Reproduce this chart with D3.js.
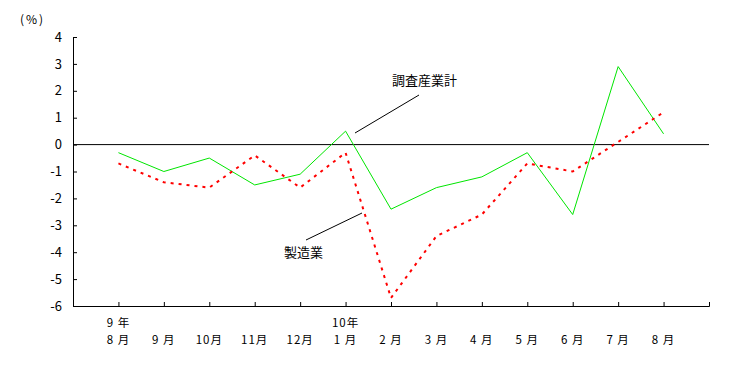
<!DOCTYPE html>
<html><head><meta charset="utf-8">
<script src="https://cdn.jsdelivr.net/npm/d3@7"></script>
<style>body{margin:0;background:#fff}svg{display:block}text{font-family:"Noto Sans CJK JP","DejaVu Sans",sans-serif;}</style>
</head><body>
<script>
const categories = ["8月","9月","10月","11月","12月","1月","2月","3月","4月","5月","6月","7月","8月b"];
const monthLabels = ["8 月","9 月","10月","11月","12月","1 月","2 月","3 月","4 月","5 月","6 月","7 月","8 月"];
const yearLabels = ["9 年","","","","","10年","","","","","","",""];
const allIndustries = [-0.3,-1.0,-0.5,-1.5,-1.1,0.5,-2.4,-1.6,-1.2,-0.3,-2.6,2.9,0.4];
const manufacturing = [-0.7,-1.4,-1.6,-0.4,-1.6,-0.3,-5.7,-3.4,-2.6,-0.7,-1.0,0.1,1.2];
const yTicks = [4,3,2,1,0,-1,-2,-3,-4,-5,-6];

const W=746,H=371;
const svg=d3.select("body").append("svg").attr("width",W).attr("height",H);
const x=d3.scalePoint().domain(categories).range([73,709]).padding(1);
const y=d3.scaleLinear().domain([-6,4]).range([306,37]);

// y axis
const ya=svg.append("g").attr("transform","translate(73,0)")
  .call(d3.axisLeft(y).tickValues(yTicks).tickSizeInner(-4).tickSizeOuter(0).tickPadding(11).tickFormat(d=>d<0?"-"+Math.abs(d):d));
ya.select(".domain").attr("stroke","#000");
ya.selectAll(".tick line").attr("stroke","#000");
ya.selectAll("text").attr("font-size",13).attr("fill","#000");

// x axis
const xa=svg.append("g").attr("transform","translate(0,306)")
  .call(d3.axisBottom(x).tickSizeInner(-4).tickSizeOuter(-4).tickFormat(""));
xa.select(".domain").attr("stroke","#000");
xa.selectAll(".tick line").attr("stroke","#000");

// labels
const lab=svg.append("g");
categories.forEach((c,i)=>{
  lab.append("text").attr("x",x(c)).attr("y",344).attr("text-anchor","middle").attr("font-size",11.5).attr("letter-spacing",1).text(monthLabels[i]);
  if(yearLabels[i]) lab.append("text").attr("x",x(c)).attr("y",327).attr("text-anchor","middle").attr("font-size",11.5).attr("letter-spacing",1).text(yearLabels[i]);
});
svg.append("text").attr("x",20).attr("y",24).attr("font-size",12).attr("letter-spacing",2).text("(%)");

// zero line
svg.append("line").attr("x1",73).attr("x2",709).attr("y1",y(0)).attr("y2",y(0)).attr("stroke","#000").attr("stroke-width",1);

const line=d3.line().x((d,i)=>x(categories[i])).y(d=>y(d));
svg.append("path").datum(allIndustries).attr("d",line).attr("fill","none").attr("stroke","#00e600").attr("stroke-width",1);
svg.append("path").datum(manufacturing).attr("d",line).attr("fill","none").attr("stroke","#ff0000").attr("stroke-width",2).attr("stroke-dasharray","3,5");

// annotations
svg.append("line").attr("x1",355).attr("y1",133).attr("x2",419).attr("y2",95).attr("stroke","#000");
svg.append("text").attr("x",392).attr("y",85).attr("font-size",13).text("調査産業計");
svg.append("line").attr("x1",306).attr("y1",240).attr("x2",362).attr("y2",213).attr("stroke","#000");
svg.append("text").attr("x",284).attr("y",257).attr("font-size",13).text("製造業");
</script>
</body></html>
